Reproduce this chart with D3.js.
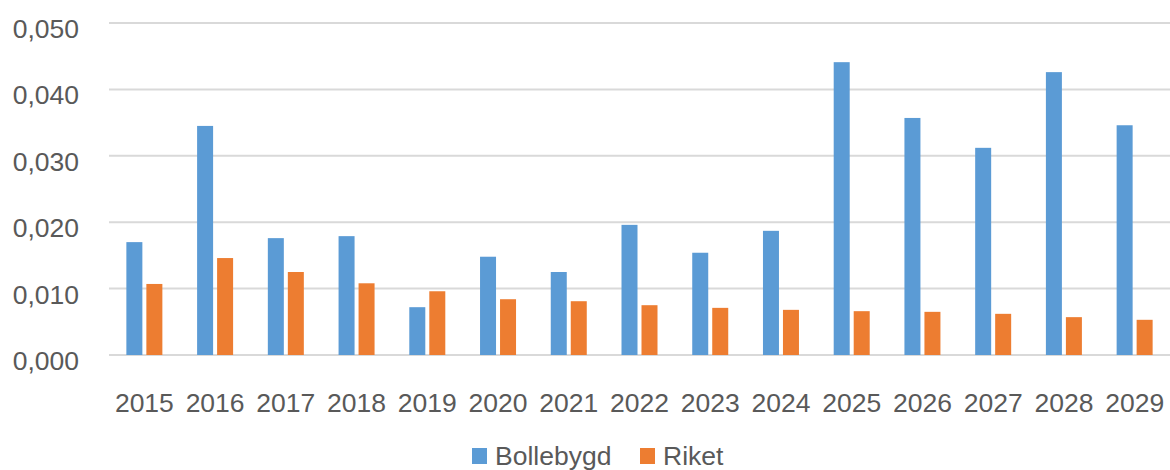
<!DOCTYPE html>
<html>
<head>
<meta charset="utf-8">
<script src="https://cdn.jsdelivr.net/npm/d3@7"></script>
<style>
  body { margin: 0; background: #fff; }
  svg { display: block; font-family: "Liberation Sans", Arial, sans-serif; }
</style>
</head>
<body>
<div id="chart"></div>
<script>
// data
const years = ["2015", "2016", "2017", "2018", "2019", "2020", "2021", "2022",
               "2023", "2024", "2025", "2026", "2027", "2028", "2029"];
const bollebygd = [0.0170, 0.0345, 0.0176, 0.0179, 0.0072, 0.0148, 0.0125, 0.0196,
                   0.0154, 0.0187, 0.0441, 0.0357, 0.0312, 0.0426, 0.0346];
const riket = [0.0107, 0.0146, 0.0125, 0.0108, 0.0096, 0.0084, 0.0081, 0.0075,
               0.0071, 0.0068, 0.0066, 0.0065, 0.0062, 0.0057, 0.0053];
const seriesNames = ["Bollebygd", "Riket"];
const yTicks = [0, 0.01, 0.02, 0.03, 0.04, 0.05];

const colors = { Bollebygd: "#5B9BD5", Riket: "#ED7D31" };
const fontSize = "26.5px";

const W = 1170, H = 470;
const margin = { top: 23, right: 0, bottom: 115, left: 109 };
const width = W - margin.left - margin.right;
const height = H - margin.top - margin.bottom;

const svg = d3.select("#chart").append("svg")
    .attr("width", W)
    .attr("height", H);

const g = svg.append("g")
    .attr("transform", `translate(${margin.left},${margin.top})`);

// scales
const x = d3.scaleBand().domain(years).range([0, width]).padding(0);
const x1 = d3.scaleBand().domain(seriesNames).range([-18, 18]).paddingInner(0.2);
const y = d3.scaleLinear().domain([0, 0.05]).range([height, 0]);

// gridlines
g.selectAll("line.grid")
    .data(yTicks)
    .enter()
    .append("line")
    .attr("class", "grid")
    .attr("x1", 0)
    .attr("x2", width)
    .attr("y1", d => y(d))
    .attr("y2", d => y(d))
    .attr("stroke", "#d9d9d9")
    .attr("stroke-width", 2);

// bars
const rows = years.map((yr, i) => ({ year: yr, Bollebygd: bollebygd[i], Riket: riket[i] }));

const groups = g.selectAll("g.year")
    .data(rows)
    .enter()
    .append("g")
    .attr("transform", d => `translate(${x(d.year) + x.bandwidth() / 2},0)`);

groups.selectAll("rect")
    .data(d => seriesNames.map(s => ({ key: s, value: d[s] })))
    .enter()
    .append("rect")
    .attr("x", d => x1(d.key))
    .attr("y", d => y(d.value))
    .attr("width", x1.bandwidth())
    .attr("height", d => height - y(d.value))
    .attr("fill", d => colors[d.key]);

// axes
const fmt = d => d3.format(".3f")(d).replace(".", ",");

const yAxis = g.append("g")
    .call(d3.axisLeft(y).tickValues(yTicks).tickFormat(fmt).tickSize(0).tickPadding(30));
yAxis.select(".domain").remove();
yAxis.selectAll("text")
    .attr("dy", "0.55em")
    .attr("fill", "#595959")
    .style("font-size", fontSize);

const xAxis = g.append("g")
    .attr("transform", `translate(0,${height})`)
    .call(d3.axisBottom(x).tickSize(0).tickPadding(38));
xAxis.select(".domain").remove();
xAxis.selectAll("text")
    .attr("fill", "#595959")
    .style("font-size", fontSize);

// legend
const legend = svg.append("g").attr("transform", "translate(472,448)");
const legendItems = [
    { name: "Bollebygd", x: 0 },
    { name: "Riket", x: 168 }
];
legendItems.forEach(it => {
    legend.append("rect")
        .attr("x", it.x)
        .attr("y", 0)
        .attr("width", 15)
        .attr("height", 16)
        .attr("fill", colors[it.name]);
    legend.append("text")
        .attr("x", it.x + 23)
        .attr("y", 17)
        .attr("fill", "#595959")
        .style("font-size", fontSize)
        .text(it.name);
});
</script>
</body>
</html>
